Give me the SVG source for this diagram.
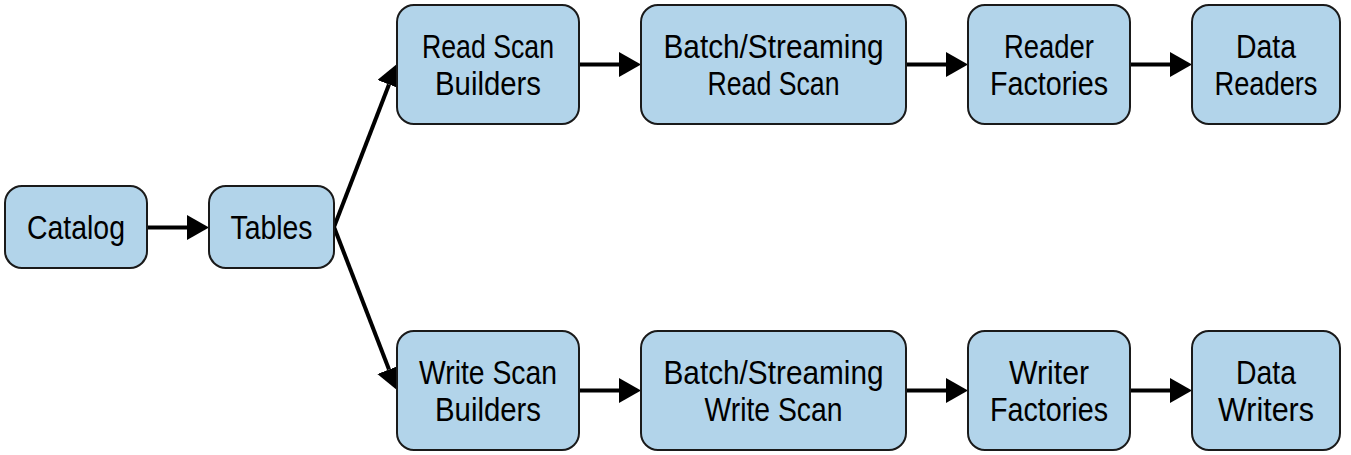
<svg xmlns="http://www.w3.org/2000/svg" width="1351" height="455" viewBox="0 0 1351 455">
<defs>
<style>
.box{fill:#b2d4ea;stroke:#1a1a1a;stroke-width:2}
.lbl{font-family:"Liberation Sans",Arial,sans-serif;font-size:33.5px;fill:#000;text-anchor:middle}
.edge{stroke:#000;stroke-width:4;fill:none}
</style>
<marker id="ah" markerUnits="userSpaceOnUse" markerWidth="23" markerHeight="26" refX="0" refY="12.5" orient="auto" viewBox="0 0 23 26">
<path d="M0,0 L22,12.5 L0,25 z" fill="#000"/>
</marker>
</defs>
<rect width="1351" height="455" fill="#fff"/>
<g id="connectors">
<line class="edge" x1="147" y1="227.5" x2="187" y2="227.5" marker-end="url(#ah)"/>
<line class="edge" x1="334" y1="227" x2="389" y2="84.5" marker-end="url(#ah)"/>
<line class="edge" x1="334" y1="227" x2="389" y2="369.5" marker-end="url(#ah)"/>
<line class="edge" x1="579" y1="64.5" x2="619" y2="64.5" marker-end="url(#ah)"/>
<line class="edge" x1="906" y1="64.5" x2="946" y2="64.5" marker-end="url(#ah)"/>
<line class="edge" x1="1130" y1="64.5" x2="1170" y2="64.5" marker-end="url(#ah)"/>
<line class="edge" x1="579" y1="390.5" x2="619" y2="390.5" marker-end="url(#ah)"/>
<line class="edge" x1="906" y1="390.5" x2="946" y2="390.5" marker-end="url(#ah)"/>
<line class="edge" x1="1130" y1="390.5" x2="1170" y2="390.5" marker-end="url(#ah)"/>
</g>
<g id="catalog"><rect class="box" x="5" y="186" width="142" height="82" rx="17"/><text class="lbl" x="76" y="239" textLength="98" lengthAdjust="spacingAndGlyphs">Catalog</text></g>
<g id="tables"><rect class="box" x="209" y="186" width="125" height="82" rx="17"/><text class="lbl" x="271.5" y="239" textLength="82" lengthAdjust="spacingAndGlyphs">Tables</text></g>
<g id="read-scan-builders"><rect class="box" x="397" y="5" width="182" height="119" rx="17"/><text class="lbl" x="488" y="57.75" textLength="132" lengthAdjust="spacingAndGlyphs">Read Scan</text><text class="lbl" x="488" y="95.25" textLength="106" lengthAdjust="spacingAndGlyphs">Builders</text></g>
<g id="batch-read-scan"><rect class="box" x="641" y="5" width="265" height="119" rx="17"/><text class="lbl" x="773.5" y="57.75" textLength="220" lengthAdjust="spacingAndGlyphs">Batch/Streaming</text><text class="lbl" x="773.5" y="95.25" textLength="132" lengthAdjust="spacingAndGlyphs">Read Scan</text></g>
<g id="reader-factories"><rect class="box" x="968" y="5" width="162" height="119" rx="17"/><text class="lbl" x="1049" y="57.75" textLength="90" lengthAdjust="spacingAndGlyphs">Reader</text><text class="lbl" x="1049" y="95.25" textLength="118" lengthAdjust="spacingAndGlyphs">Factories</text></g>
<g id="data-readers"><rect class="box" x="1192" y="5" width="148" height="119" rx="17"/><text class="lbl" x="1266" y="57.75" textLength="60" lengthAdjust="spacingAndGlyphs">Data</text><text class="lbl" x="1266" y="95.25" textLength="103" lengthAdjust="spacingAndGlyphs">Readers</text></g>
<g id="write-scan-builders"><rect class="box" x="397" y="331" width="182" height="119" rx="17"/><text class="lbl" x="488" y="383.75" textLength="138" lengthAdjust="spacingAndGlyphs">Write Scan</text><text class="lbl" x="488" y="421.25" textLength="106" lengthAdjust="spacingAndGlyphs">Builders</text></g>
<g id="batch-write-scan"><rect class="box" x="641" y="331" width="265" height="119" rx="17"/><text class="lbl" x="773.5" y="383.75" textLength="220" lengthAdjust="spacingAndGlyphs">Batch/Streaming</text><text class="lbl" x="773.5" y="421.25" textLength="138" lengthAdjust="spacingAndGlyphs">Write Scan</text></g>
<g id="writer-factories"><rect class="box" x="968" y="331" width="162" height="119" rx="17"/><text class="lbl" x="1049" y="383.75" textLength="80" lengthAdjust="spacingAndGlyphs">Writer</text><text class="lbl" x="1049" y="421.25" textLength="118" lengthAdjust="spacingAndGlyphs">Factories</text></g>
<g id="data-writers"><rect class="box" x="1192" y="331" width="148" height="119" rx="17"/><text class="lbl" x="1266" y="383.75" textLength="60" lengthAdjust="spacingAndGlyphs">Data</text><text class="lbl" x="1266" y="421.25" textLength="96" lengthAdjust="spacingAndGlyphs">Writers</text></g>
</svg>
